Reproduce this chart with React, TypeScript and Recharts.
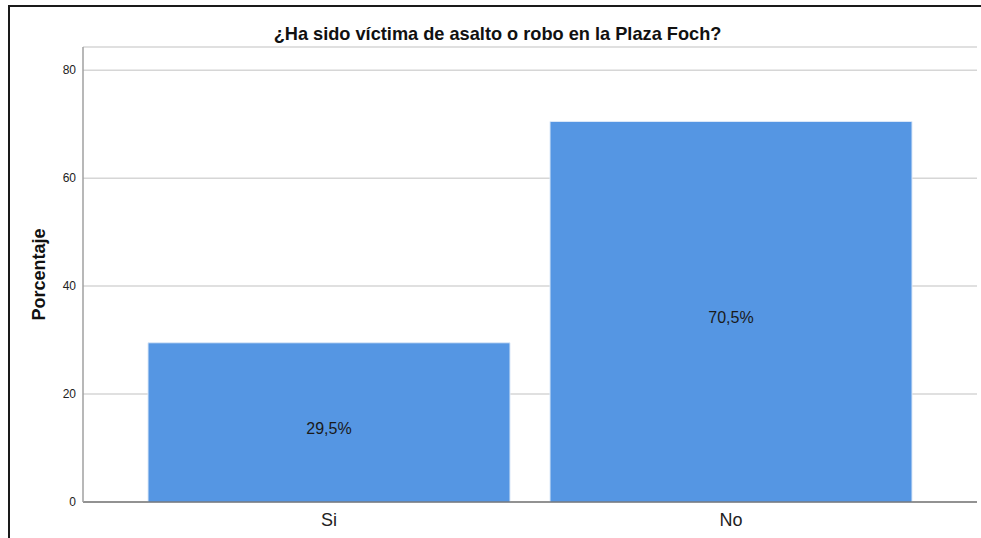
import { BarChart, Bar, XAxis, YAxis, CartesianGrid, LabelList } from 'recharts';

const categories = ['Si', 'No'];
const percentages = [29.5, 70.5];
const yTicks = [0, 20, 40, 60, 80];

const data = categories.map((name, i) => ({ name, value: percentages[i] }));

const FONT = '"Liberation Sans", Arial, sans-serif';

// rotated axis title, baseline at x=45, centred on the plot
const YTitle = ({ viewBox }: any) => {
    const cx = 45;
    const cy = viewBox.y + viewBox.height / 2;
    return (
        <text
            x={cx}
            y={cy}
            transform={`rotate(-90 ${cx} ${cy})`}
            textAnchor="middle"
            fontFamily={FONT}
            fontSize={18}
            fontWeight="bold"
            fill="#111"
        >
            Porcentaje
        </text>
    );
};

export default function App() {
    return (
        <div style={{ position: 'absolute', left: 0, top: 0, width: 981, height: 538, overflow: 'hidden', background: '#fff' }}>
            {/* frame around the figure */}
            <div
                style={{
                    position: 'absolute',
                    left: 8,
                    top: 5,
                    width: 1200,
                    height: 800,
                    borderTop: '2px solid #1a1a1a',
                    borderLeft: '2px solid #1a1a1a',
                }}
            />
            <svg width={981} height={60} style={{ position: 'absolute', left: 0, top: 0 }}>
                <text x={497.5} y={40} textAnchor="middle" fontFamily={FONT} fontSize={18.2} fontWeight="bold" fill="#111">
                    ¿Ha sido víctima de asalto o robo en la Plaza Foch?
                </text>
            </svg>
            <div style={{ position: 'absolute', left: 0, top: 0 }}>
                <BarChart
                    width={981}
                    height={538}
                    data={data}
                    margin={{ top: 47, right: 4, bottom: 6, left: 0 }}
                    barCategoryGap={20}
                >
                    <CartesianGrid vertical={false} stroke="#d6d6d6" strokeWidth={1.5} />
                    <XAxis
                        dataKey="name"
                        height={30}
                        padding={{ left: 45, right: 45 }}
                        axisLine={{ stroke: '#444', strokeWidth: 1.2 }}
                        tickLine={false}
                        tickSize={0}
                        tickMargin={11}
                        tick={{ fill: '#222', fontSize: 18, fontFamily: FONT }}
                    />
                    <YAxis
                        width={83}
                        domain={[0, 84.3]}
                        ticks={yTicks}
                        axisLine={{ stroke: '#a0a0a0', strokeWidth: 1.5 }}
                        tickLine={false}
                        tickSize={0}
                        tickMargin={7}
                        tick={{ fill: '#222', fontSize: 12, fontFamily: FONT }}
                        label={{ value: 'Porcentaje', content: <YTitle /> }}
                    />
                    <Bar dataKey="value" fill="#5596e3" stroke="#dbe8f8" strokeWidth={1} isAnimationActive={false}>
                        <LabelList
                            dataKey="value"
                            position="center"
                            dy={6}
                            formatter={(v: any) => `${String(v).replace('.', ',')}%`}
                            fill="#1a1a1a"
                            fontSize={16}
                            fontFamily={FONT}
                        />
                    </Bar>
                </BarChart>
            </div>
        </div>
    );
}
